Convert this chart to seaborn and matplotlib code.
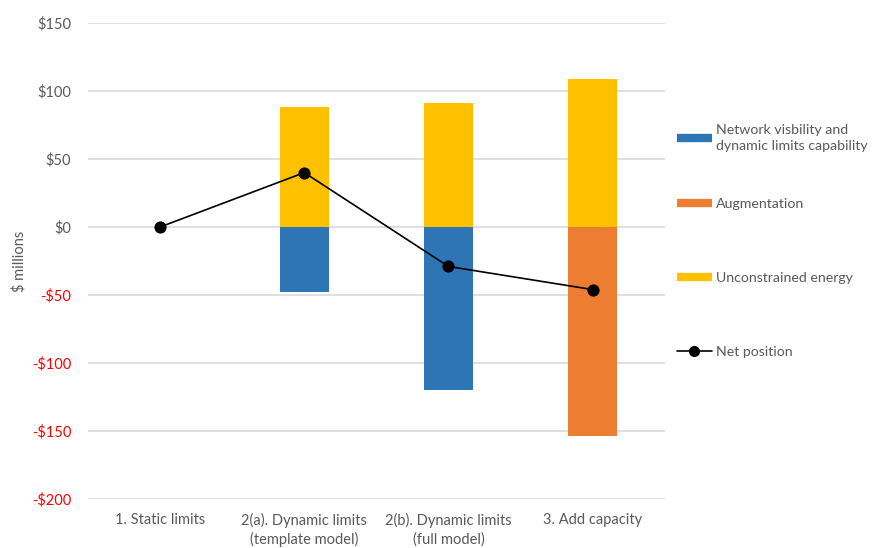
import matplotlib
matplotlib.use("Agg")
import matplotlib.pyplot as plt
import seaborn as sns
import numpy as np
import pandas as pd
from matplotlib.lines import Line2D

categories = ["1. Static limits", "2(a). Dynamic limits\n(template model)",
              "2(b). Dynamic limits\n(full model)", "3. Add capacity"]
network = [0, -48, -120, 0]
augmentation = [0, 0, 0, -154]
unconstrained = [0, 88, 91, 109]
net_position = [0, 40, -29, -46]

series_labels = ["Network visbility and\ndynamic limits capability", "Augmentation",
                 "Unconstrained energy", "Net position"]
yticks = [-200, -150, -100, -50, 0, 50, 100, 150]

c_blue = "#2E75B6"
c_orange = "#ED7D31"
c_yellow = "#FFC000"
gray = "#595959"

sns.set_theme(style="white")
plt.rcParams['font.family'] = ['Lato', 'DejaVu Sans']

fig = plt.figure(figsize=(8.84, 5.48), dpi=100)
ax = fig.add_axes([0.0995, 0.0894, 0.6525, 0.8686])

for vals, col in [(network, c_blue), (augmentation, c_orange), (unconstrained, c_yellow)]:
    sns.barplot(x=categories, y=vals, color=col, width=0.34, ax=ax, zorder=2,
                saturation=1, linewidth=0, order=categories)

sns.lineplot(x=np.arange(len(categories)), y=net_position, color="black", marker="o",
             markersize=8, linewidth=1.2, markeredgecolor="black", ax=ax, zorder=3)

ax.set_ylim(-200, 150)
ax.set_xlim(-0.5, 3.5)
ax.set_yticks(yticks)
ax.set_yticklabels([("-$%d" % abs(v)) if v < 0 else ("$%d" % v) for v in yticks])
for lbl, v in zip(ax.get_yticklabels(), yticks):
    lbl.set_color("#FF0000" if v < 0 else gray)
ax.tick_params(axis='y', labelsize=10.5, length=0, pad=12)
ax.tick_params(axis='x', labelsize=10.5, length=0, pad=10, colors=gray)
for lbl in ax.get_xticklabels():
    lbl.set_linespacing(1.35)
ax.grid(axis='y', color="#D9D9D9", linewidth=1.2, zorder=0)
ax.set_axisbelow(True)
for s in ax.spines.values():
    s.set_visible(False)
ax.set_ylabel("$ millions", fontsize=10.5, color=gray, labelpad=4)
ax.set_xlabel("")

handles = [Line2D([0], [0], color=c_blue, lw=6, solid_capstyle="butt"),
           Line2D([0], [0], color=c_orange, lw=6, solid_capstyle="butt"),
           Line2D([0], [0], color=c_yellow, lw=6, solid_capstyle="butt"),
           Line2D([0], [0], color="black", lw=1.2, marker="o", markersize=7)]
legend_y = [0.748, 0.628, 0.493, 0.358]
for h, lab, yy in zip(handles, series_labels, legend_y):
    leg = fig.legend([h], [lab], loc="center left", bbox_to_anchor=(0.751, yy),
                     frameon=False, fontsize=10.2, handlelength=2.5, handletextpad=0.3,
                     labelcolor=gray)
    for t in leg.get_texts():
        t.set_linespacing(1.45)

fig.savefig("out.png", dpi=100)
